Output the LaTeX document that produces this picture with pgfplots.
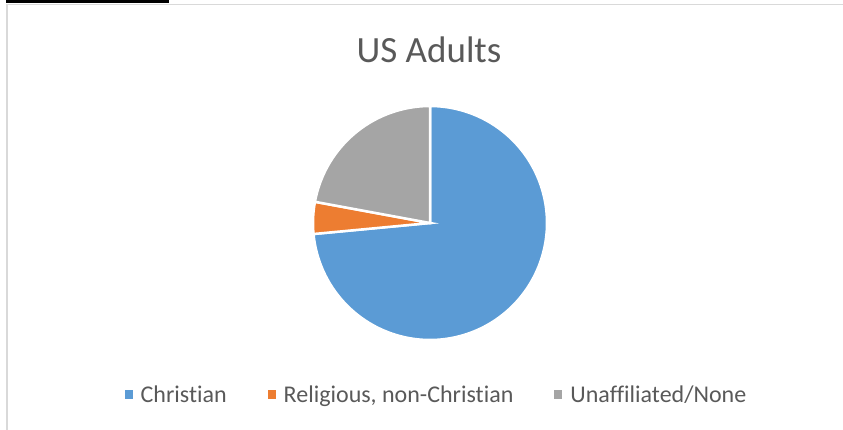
\documentclass[border=0pt]{standalone}
\usepackage{pgfplots}
\pgfplotsset{compat=1.18}
\usepackage{pgfplotstable}
\usepackage{fontspec}
\setmainfont{Carlito}[RawFeature=-liga]
\definecolor{cblue}{HTML}{5B9BD5}
\definecolor{corange}{HTML}{ED7D31}
\definecolor{cgray}{HTML}{A5A5A5}
\definecolor{ctext}{HTML}{595959}
\definecolor{cframe}{HTML}{D9D9D9}

\pgfplotstableread{
label value
Christian 73.5
Religious 4.4
Unaffiliated 22.1
}\pietable

\begin{document}
\begin{tikzpicture}
\pgfplotstablegetelem{0}{value}\of\pietable \let\vA\pgfplotsretval
\pgfplotstablegetelem{1}{value}\of\pietable \let\vB\pgfplotsretval
\pgfplotstablegetelem{2}{value}\of\pietable \let\vC\pgfplotsretval
\pgfmathsetmacro\aStart{90}
\pgfmathsetmacro\aA{90-3.6*\vA}
\pgfmathsetmacro\aB{\aA-3.6*\vB}
\pgfmathsetmacro\aC{\aB-3.6*\vC}
\def\cx{430}\def\cy{207}\def\rr{117}
\begin{axis}[
  at={(0,0)}, anchor=south west,
  scale only axis, width=843bp, height=430bp,
  xmin=0, xmax=843, ymin=0, ymax=430,
  hide axis, clip=false,
  legend columns=3,
  legend style={at={(axis cs:435.5,35)}, anchor=center, draw=none, fill=none,
    font=\fontsize{24bp}{28bp}\selectfont, text=ctext,
    nodes={inner sep=0pt, text=ctext},
    /tikz/every even column/.append style={column sep=41bp},
    /tikz/every odd column/.append style={column sep=8bp}},
  legend image code/.code={\fill[#1,draw=none] (0bp,-3.5bp) rectangle (8bp,4.5bp);},
]
\addplot[fill=cblue, draw=white, line width=2.5bp, domain=\aA:\aStart, samples=150]
  ({\cx+\rr*cos(x)},{\cy+\rr*sin(x)}) -- (axis cs:\cx,\cy) -- cycle;
\addlegendentry{Christian}
\addplot[fill=corange, draw=white, line width=2.5bp, domain=\aB:\aA, samples=20]
  ({\cx+\rr*cos(x)},{\cy+\rr*sin(x)}) -- (axis cs:\cx,\cy) -- cycle;
\addlegendentry{Religious, non-Christian}
\addplot[fill=cgray, draw=white, line width=2.5bp, domain=\aC:\aB, samples=60]
  ({\cx+\rr*cos(x)},{\cy+\rr*sin(x)}) -- (axis cs:\cx,\cy) -- cycle;
\addlegendentry{Unaffiliated/None}
\draw[cframe, line width=1.5bp] (axis cs:843,425.5) -- (axis cs:7,425.5) -- (axis cs:7,0);
\fill[black] (axis cs:6,430) rectangle (axis cs:169,427);
\node[text=ctext, font=\fontsize{37bp}{42bp}\selectfont] at (axis cs:429,380) {US Adults};
\end{axis}
\pgfresetboundingbox
\path[use as bounding box] (0,0) rectangle (843bp,430bp);
\end{tikzpicture}
\end{document}
